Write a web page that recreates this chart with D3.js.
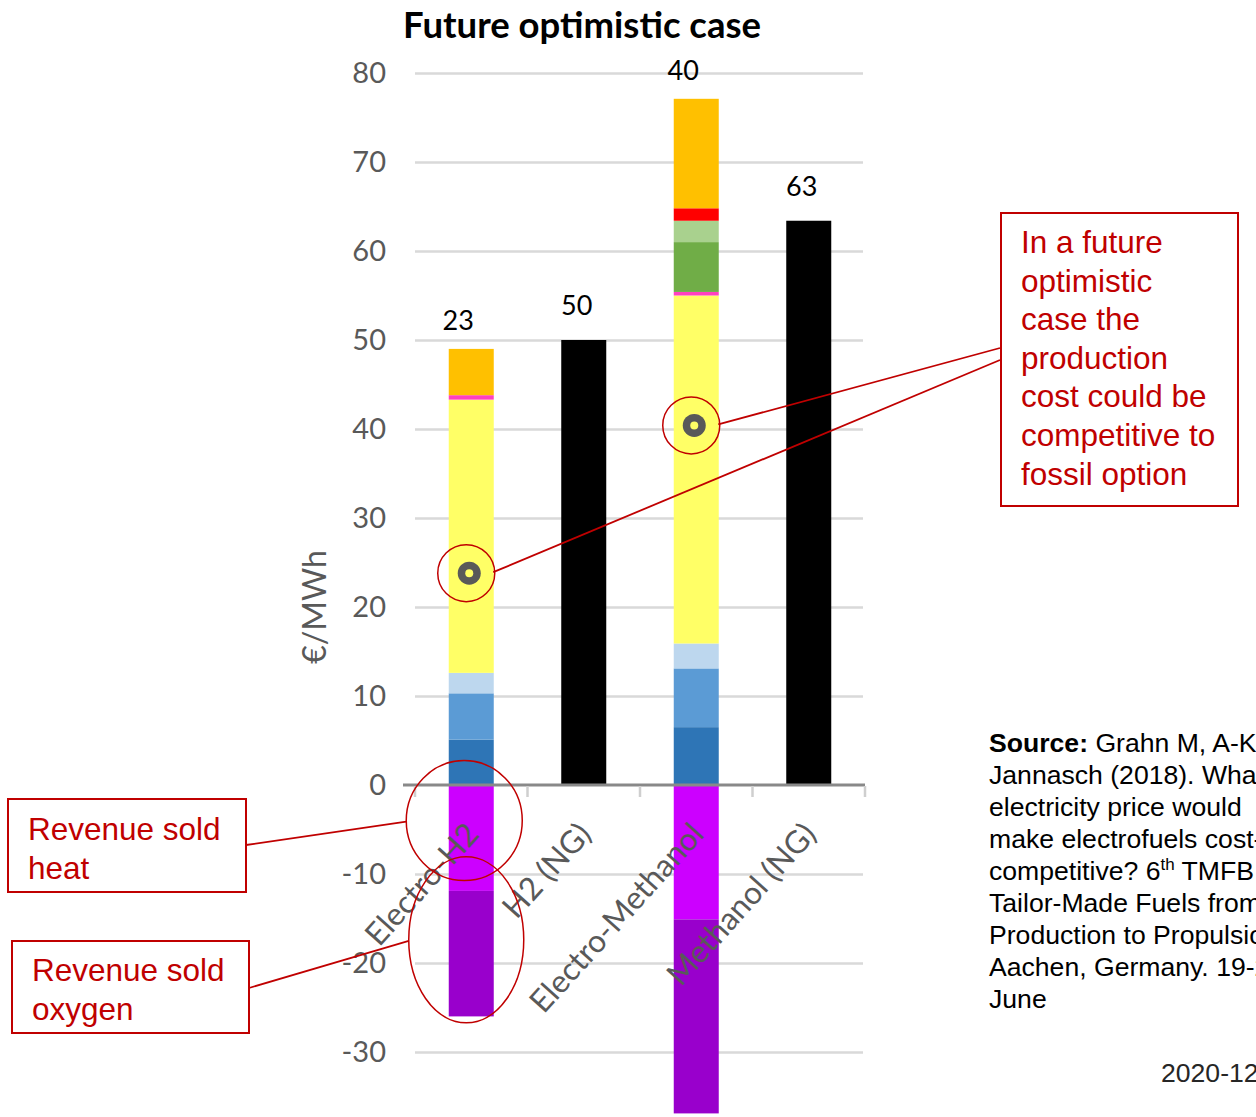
<!DOCTYPE html>
<html>
<head>
<meta charset="utf-8">
<script src="https://cdn.jsdelivr.net/npm/d3@7"></script>
<style>
  body { margin: 0; background: #fff; }
  svg { display: block; }
</style>
</head>
<body>
<svg id="chart" width="1256" height="1117"></svg>
<script>
// Chart data (€/MWh)
const categories = ["Electro-H2", "H2 (NG)", "Electro-Methanol", "Methanol (NG)"];
const capexElectrolyser = [5.1, 0, 6.5, 0];
const capexSynthesis = [5.2, 0, 6.6, 0];
const operation = [2.3, 0, 2.8, 0];
const electricity = [30.7, 0, 39.1, 0];
const water = [0.5, 0, 0.4, 0];
const co2Capture = [0, 0, 5.6, 0];
const co2Other = [0, 0, 2.4, 0];
const catalyst = [0, 0, 1.4, 0];
const storage = [5.2, 0, 12.3, 0];
const fossil = [0, 50, 0, 63.4];
const revenueHeat = [-11.9, 0, -15.1, 0];
const revenueOxygen = [-14.1, 0, -21.8, 0];
const netLabels = ["23", "50", "40", "63"];
const netMarkers = [23.8, null, 40.4, null];
const yTicks = [-30, -20, -10, 0, 10, 20, 30, 40, 50, 60, 70, 80];

const seriesKeys = ["capexElectrolyser", "capexSynthesis", "operation", "electricity", "water",
  "co2Capture", "co2Other", "catalyst", "storage", "fossil", "revenueHeat", "revenueOxygen"];
const seriesValues = [capexElectrolyser, capexSynthesis, operation, electricity, water,
  co2Capture, co2Other, catalyst, storage, fossil, revenueHeat, revenueOxygen];
const seriesColors = ["#2E75B6", "#5B9BD5", "#BDD7EE", "#FFFF66", "#FF40C0",
  "#70AD47", "#A9D18E", "#FF0000", "#FFC000", "#000000", "#CC00FF", "#9900CC"];

const rows = categories.map((c, i) => {
  const row = { category: c };
  seriesKeys.forEach((k, j) => (row[k] = seriesValues[j][i]));
  return row;
});

const svg = d3.select("#chart");
svg.append("rect").attr("width", 1256).attr("height", 1117).attr("fill", "#fff");

const chartFont = "Lato, 'Open Sans', sans-serif";
const noteFont = "'Liberation Sans', Arial, sans-serif";
const red = "#C00000";

// scales
const x = d3.scaleBand().domain(categories).range([415, 865]).paddingInner(0.6).paddingOuter(0.3);
const y = d3.scaleLinear().domain([-30, 80]).range([1052, 73]);

// gridlines
svg.append("g")
  .attr("transform", "translate(415,0)")
  .call(d3.axisLeft(y).tickValues(yTicks.filter((d) => d !== 0)).tickSize(-448).tickFormat(""))
  .call((g) => g.select(".domain").remove())
  .call((g) => g.selectAll("line").attr("stroke", "#D9D9D9").attr("stroke-width", 2.5));

// y tick labels (plain hyphen like the original)
svg.append("g")
  .attr("transform", "translate(415,0)")
  .call(d3.axisLeft(y).tickValues(yTicks).tickSize(0).tickPadding(29).tickFormat((d) => String(d)))
  .call((g) => g.select(".domain").remove())
  .call((g) => g.selectAll("text")
    .attr("font-family", chartFont).attr("font-size", 29).attr("fill", "#595959"));

// y axis title
svg.append("text")
  .attr("transform", `translate(326,${y(20)}) rotate(-90)`)
  .attr("text-anchor", "middle")
  .attr("font-family", chartFont).attr("font-size", 32).attr("fill", "#595959")
  .text("€/MWh");

// stacked bars
const stacked = d3.stack().keys(seriesKeys).offset(d3.stackOffsetDiverging)(rows);
svg.append("g").selectAll("g")
  .data(stacked)
  .join("g")
  .attr("fill", (d, i) => seriesColors[i])
  .selectAll("rect")
  .data((d) => d.filter((p) => p[1] !== p[0]))
  .join("rect")
  .attr("x", (d) => x(d.data.category))
  .attr("width", x.bandwidth())
  .attr("y", (d) => y(Math.max(d[0], d[1])))
  .attr("height", (d) => Math.abs(y(d[0]) - y(d[1])));

// zero line and category ticks
svg.append("line")
  .attr("x1", 403).attr("x2", 865).attr("y1", y(0)).attr("y2", y(0))
  .attr("stroke", "#898989").attr("stroke-width", 3);
const bounds = categories.map((c) => x(c) - x.step() * x.paddingOuter()).concat([865]);
svg.append("g").selectAll("line")
  .data(bounds)
  .join("line")
  .attr("x1", (d) => d).attr("x2", (d) => d)
  .attr("y1", y(0) + 1).attr("y2", y(0) + 12)
  .attr("stroke", "#CFCFCF").attr("stroke-width", 2.5);

// category labels
svg.append("g").selectAll("text")
  .data(categories)
  .join("text")
  .attr("transform", (d) => `translate(${x(d) + x.bandwidth() / 2 + 1},${y(0) + 43}) rotate(-48)`)
  .attr("text-anchor", "end")
  .attr("dy", "0.35em")
  .attr("font-family", chartFont).attr("font-size", 31.5).attr("fill", "#595959")
  .text((d) => d);

// value labels above the positive stacks
const posTop = rows.map((r) => d3.sum(seriesKeys, (k) => Math.max(0, r[k])));
svg.append("g").selectAll("text")
  .data(categories)
  .join("text")
  .attr("x", (d, i) => x(d) + x.bandwidth() / 2 - (i % 2 === 0 ? 13 : 7))
  .attr("y", (d, i) => y(posTop[i]) - (i % 2 === 0 ? 19 : 25))
  .attr("text-anchor", "middle")
  .attr("font-family", chartFont).attr("font-size", 27).attr("fill", "#000")
  .text((d, i) => netLabels[i]);

// net markers
const markers = categories.map((c, i) => ({ c, v: netMarkers[i] })).filter((d) => d.v !== null);
const mg = svg.append("g").selectAll("g").data(markers).join("g")
  .attr("transform", (d) => `translate(${x(d.c) + x.bandwidth() / 2 - 2},${y(d.v)})`);
mg.append("circle").attr("r", 11.5).attr("fill", "#595959");
mg.append("circle").attr("r", 4).attr("fill", "#FFFF66");
mg.append("circle").attr("cx", -3).attr("r", 28.5)
  .attr("fill", "none").attr("stroke", red).attr("stroke-width", 1.5);

// title
svg.append("text")
  .attr("x", 582).attr("y", 38)
  .attr("text-anchor", "middle")
  .attr("font-family", chartFont).attr("font-weight", "bold").attr("font-size", 36.5)
  .attr("fill", "#000")
  .text("Future optimistic case");

// revenue ellipses
const h2x = x("Electro-H2") + x.bandwidth() / 2;
const ell = [
  { cx: h2x - 7, cy: y(-4), rx: 58, ry: 60, from: [246, 845] },
  { cx: h2x - 5, cy: y(-17.4), rx: 57.5, ry: 83, from: [249, 988] }
];
ell.forEach((e) => {
  svg.append("ellipse")
    .attr("cx", e.cx).attr("cy", e.cy).attr("rx", e.rx).attr("ry", e.ry)
    .attr("fill", "none").attr("stroke", red).attr("stroke-width", 1.5);
  svg.append("line")
    .attr("x1", e.from[0]).attr("y1", e.from[1])
    .attr("x2", e.cx - e.rx).attr("y2", e.cy + 1)
    .attr("stroke", red).attr("stroke-width", 1.8);
});

// lines from big note box to the marker circles
markers.forEach((d, i) => {
  const mx = x(d.c) + x.bandwidth() / 2 - 5;
  const my = y(d.v);
  svg.append("line")
    .attr("x1", 1000).attr("y1", i === 0 ? 360 : 348)
    .attr("x2", mx + 27).attr("y2", my - 1)
    .attr("stroke", red).attr("stroke-width", 1.8);
});

// note boxes
function noteBox(x0, y0, w, h, tx, lines, base, lh) {
  svg.append("rect")
    .attr("x", x0).attr("y", y0).attr("width", w).attr("height", h)
    .attr("fill", "#fff").attr("stroke", red).attr("stroke-width", 2);
  svg.append("g").selectAll("text")
    .data(lines)
    .join("text")
    .attr("x", tx).attr("y", (d, i) => base + i * lh)
    .attr("font-family", noteFont).attr("font-size", 31.5).attr("fill", red)
    .text((d) => d);
}
noteBox(8, 799, 238, 93, 28, ["Revenue sold", "heat"], 840, 38.5);
noteBox(12, 941, 237, 92, 32, ["Revenue sold", "oxygen"], 981, 38.5);
noteBox(1001, 213, 237, 293, 1021,
  ["In a future", "optimistic", "case the", "production", "cost could be", "competitive to", "fossil option"],
  253, 38.6);

// source text (runs off the right edge, as in the original slide)
const src = svg.append("g")
  .attr("font-family", noteFont).attr("font-size", 26.6).attr("fill", "#000");
const srcLines = ["Jannasch (2018). What", "electricity price would", "make electrofuels cost-"];
const l1 = src.append("text").attr("x", 989).attr("y", 752);
l1.append("tspan").attr("font-weight", "bold").text("Source:");
l1.append("tspan").text(" Grahn M, A-K");
srcLines.forEach((t, i) => src.append("text").attr("x", 989).attr("y", 784 + i * 32).text(t));
const l5 = src.append("text").attr("x", 989).attr("y", 880);
l5.append("tspan").text("competitive? 6");
l5.append("tspan").attr("font-size", 17).attr("dy", -10).text("th");
l5.append("tspan").attr("dy", 10).text(" TMFB");
["Tailor-Made Fuels from", "Production to Propulsion,", "Aachen, Germany. 19-21", "June"]
  .forEach((t, i) => src.append("text").attr("x", 989).attr("y", 912 + i * 32).text(t));
src.append("text").attr("x", 1161).attr("y", 1082).attr("fill", "#262626").text("2020-12");
</script>
</body>
</html>
